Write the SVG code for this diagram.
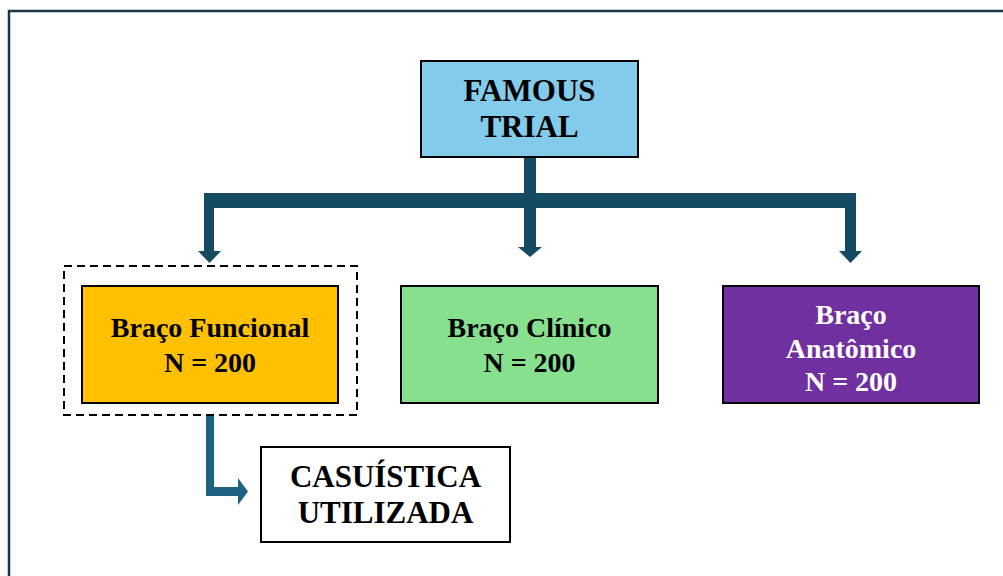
<svg xmlns="http://www.w3.org/2000/svg" width="1003" height="576" viewBox="0 0 1003 576">
<style>
.box{stroke:#000;stroke-width:2}
.t{font-family:"Liberation Serif","Times New Roman",serif;font-weight:bold;text-anchor:middle}
.dark{fill:#154a63}
.light{fill:#1d6283}
</style>
<rect x="0" y="0" width="1003" height="576" fill="#fff"/>
<rect x="9" y="11" width="1010" height="600" fill="none" stroke="#17374a" stroke-width="2.5"/>
<g id="connectors">
  <rect class="dark" x="524" y="157" width="12" height="40"/>
  <rect class="dark" x="204" y="193" width="652" height="15"/>
  <rect class="dark" x="204" y="205" width="10" height="47"/>
  <polygon class="dark" points="198,251 221,251 209.5,263"/>
  <rect class="dark" x="524" y="205" width="12" height="43"/>
  <polygon class="dark" points="518,247 542,247 530,257"/>
  <rect class="dark" x="845" y="205" width="11" height="47"/>
  <polygon class="dark" points="839,251 862,251 850.5,263"/>
  <path class="light" d="M206,416 H214 V487 H238 V478 L248,491.5 L238,505 V496 H206 Z"/>
</g>
<g id="famous-trial">
  <rect class="box" x="421" y="61" width="217" height="96" fill="#83cbeb"/>
  <text class="t" x="529.5" y="101" font-size="31">FAMOUS</text>
  <text class="t" x="529.5" y="137" font-size="31">TRIAL</text>
</g>
<g id="braco-funcional">
  <rect x="64" y="266" width="293" height="149" fill="none" stroke="#000" stroke-width="2" stroke-dasharray="8,5"/>
  <rect class="box" x="82" y="286" width="256" height="117" fill="#ffc000"/>
  <text class="t" x="210" y="337" font-size="28">Braço Funcional</text>
  <text class="t" x="210" y="372" font-size="28">N = 200</text>
</g>
<g id="braco-clinico">
  <rect class="box" x="401" y="286" width="257" height="117" fill="#86e08e"/>
  <text class="t" x="529.5" y="337" font-size="28">Braço Clínico</text>
  <text class="t" x="529.5" y="372" font-size="28">N = 200</text>
</g>
<g id="braco-anatomico">
  <rect class="box" x="723" y="286" width="256" height="117" fill="#7030a0"/>
  <text class="t" x="851" y="324" font-size="28" fill="#fff">Braço</text>
  <text class="t" x="851" y="358" font-size="28" fill="#fff">Anatômico</text>
  <text class="t" x="851" y="391" font-size="28" fill="#fff">N = 200</text>
</g>
<g id="casuistica">
  <rect class="box" x="261" y="447" width="249" height="95" fill="#fff"/>
  <text class="t" x="385.5" y="487" font-size="31">CASUÍSTICA</text>
  <text class="t" x="385.5" y="523" font-size="31">UTILIZADA</text>
</g>
</svg>
